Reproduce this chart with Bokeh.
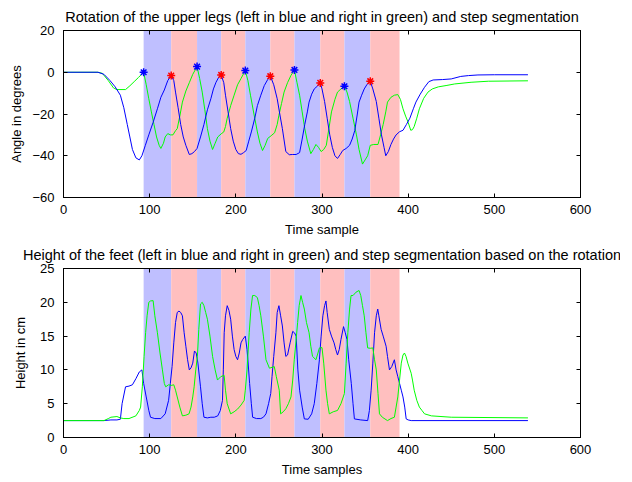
from bokeh.plotting import figure
from bokeh.models import LinearAxis, FixedTicker, Range1d
from bokeh.layouts import column
from bokeh.embed import file_html
from bokeh.resources import INLINE

# ---------------- data ----------------
x_ticks = [0, 100, 200, 300, 400, 500, 600]
rot_ticks = [-60, -40, -20, 0, 20]
hgt_ticks = [0, 5, 10, 15, 20, 25]

# step segmentation boundaries (time samples)
step_edges = [93, 125, 155, 183, 211, 240, 268, 298, 326, 356, 390]

# rotation of upper legs: left (blue)
rot_left_x = [0, 40, 47, 54, 60, 66, 70, 74, 77, 80, 84, 88, 91, 95, 99, 104, 109, 113, 117, 121,
              125, 128, 130, 133, 136, 139, 142, 146, 149, 152, 155, 159, 163, 167, 171, 174, 177, 180,
              183, 186, 188, 191, 194, 197, 200, 203, 206, 209, 212, 215, 218, 222, 225, 229, 233, 237,
              240, 244, 248, 251, 254, 258, 262, 266, 270, 274, 277, 280, 283, 285, 288, 291, 295,
              298, 300, 303, 306, 309, 312, 315, 318, 321, 324, 328, 332, 335, 338, 341, 343, 346, 349, 352,
              356, 359, 363, 366, 369, 372, 374, 377, 380, 383, 386, 390, 394, 398, 402, 406, 409, 414, 419,
              424, 429, 440, 450, 461, 470, 481, 500, 539]
rot_left_y = [0, 0, -1, -4, -7, -11, -17, -25, -31, -37, -41, -42, -40, -35, -30, -24, -17.5, -12, -8.5, -4,
              -1.6, -4, -9.5, -17, -25, -31, -35, -39.4, -39, -38, -36.5, -31, -25, -18, -12.7, -8, -4.8, -2.5,
              -1.3, -5, -11, -19, -27, -33, -37, -39, -39.3, -38.5, -37.5, -33, -28.6, -22, -16, -11, -6.4, -3.5,
              -1.8, -6, -12.7, -20, -27, -38, -39.5, -39.4, -39.4, -38.5, -32, -25, -19, -14.3, -10.5, -8, -6.5,
              -5.1, -8, -14, -22, -30, -36, -40, -41.3, -39.5, -37.5, -36.5, -35, -32, -28, -20, -14.3, -11, -8, -6,
              -4.3, -8, -14, -22, -30, -36, -40, -38, -34.6, -32, -30, -28.5, -27.8, -25, -22, -17.5, -14.3, -10.5, -7.2,
              -4.5, -3.7, -3.5, -3.2, -2, -1.6, -1.3, -1.2, -1.2]

# rotation of upper legs: right (green)
rot_right_x = [0, 40, 45, 52, 58, 62, 72, 77, 82, 87, 93, 96, 99, 102, 105, 108, 111, 113, 116, 118, 121,
               124, 127, 130, 132, 135, 138, 142, 146, 150, 155, 158, 161, 164, 167, 170, 173, 176, 179, 183,
               186, 188, 190, 194, 198, 202, 206, 211, 214, 217, 221, 225, 228, 231, 234, 237, 241, 245, 248,
               250, 253, 256, 260, 264, 268, 271, 274, 277, 280, 283, 287, 290, 293, 296, 299, 302, 305, 308,
               311, 315, 318, 322, 326, 329, 332, 336, 340, 343, 347, 350, 353, 356, 360, 365, 368, 371, 374,
               376, 380, 384, 388, 391, 394, 397, 400, 403, 405, 407, 410, 413, 418, 423, 428, 435, 445, 454,
               473, 493, 539]
rot_right_y = [0, 0, -0.5, -4, -7.5, -8.3, -8.3, -6.5, -4.5, -2.5, 0, -6, -12.7, -19, -25, -31, -35, -36.5, -34, -31, -29.4,
               -30, -30, -28, -27, -21, -14.3, -9, -5, -1, 2.7, -3, -9.5, -18, -27, -33, -37, -34, -31, -29.5,
               -28.6, -26, -22, -16, -11, -6, -3, 0.8, -4, -11, -20, -28.6, -34, -37.5, -35, -31.7, -30.4, -29, -25,
               -20.6, -15, -9.5, -5, -1.5, 1.1, -5, -11, -19, -27, -33, -39, -37, -34.6, -36, -38, -37, -35, -27,
               -19, -13, -9.5, -8, -6.7, -9.5, -14, -22, -30, -37, -44, -42, -40, -35, -34.6, -34.6, -30, -25, -19,
               -14.3, -12, -11, -10.7, -13, -17.5, -21, -24, -27.8, -27.5, -26, -22, -17.5, -12.5, -9.5, -8, -7, -6.3, -5.6,
               -4.8, -4.3, -4.1]

# markers at segmentation points
left_mark_x = [93, 155, 211, 268, 326]
left_mark_y = [0, 2.7, 0.8, 1.1, -6.7]
right_mark_x = [125, 183, 240, 298, 356]
right_mark_y = [-1.6, -1.3, -1.9, -5.1, -4.3]

# height of feet: left (blue)
hgt_left_x = [0, 47, 55, 62, 66, 68, 72, 76, 80, 84, 88, 91, 93, 96, 99, 101, 106, 113, 118, 122, 124, 126,
              128, 130, 132, 134, 136, 138, 140, 142, 144, 146, 148, 150, 152, 154, 156, 159, 161, 163, 167,
              171, 175, 179, 182, 184.5, 185.5, 186.5, 188, 190, 192, 194, 196, 198, 200, 202, 204, 206, 208,
              211, 213, 214, 216, 218, 219.5, 224, 229, 232, 235, 238, 240.5, 242, 244, 246.5, 248, 250, 252,
              254, 256, 258, 260, 263, 266, 268, 270, 272, 274, 277, 279.5, 284, 288, 291, 294, 297, 299, 301,
              303, 304.6, 306, 308.5, 311, 314, 316, 318, 320, 322, 325, 327, 329, 331, 334, 336, 337.6, 345,
              353, 355, 357, 359, 361, 363, 364.7, 366, 368.6, 371, 374.4, 376, 378.3, 381, 384, 386, 388, 390,
              392, 394, 396, 397.7, 400, 403.5, 539]
hgt_left_y = [2.5, 2.5, 2.6, 2.6, 2.7, 5, 7.5, 7.6, 7.8, 8.7, 9.7, 10, 8, 6, 4, 3, 2.8, 2.8, 3.5, 5.5, 8, 10.5,
              14, 17, 18.5, 18.7, 18.5, 18, 15.5, 13.5, 11.5, 10, 10.3, 11, 12.8, 12.5, 11, 7.5, 5, 3, 2.9,
              3, 3, 3.2, 4, 5.5, 10, 15.5, 18, 19.5, 18.8, 17.5, 15, 13, 12, 11.5, 12.5, 14, 14.5,
              15, 13, 11.5, 8, 5, 3, 2.8, 2.8, 3, 3.5, 5, 6.5, 9, 12, 15.5, 18.5, 19.5, 18,
              16.5, 14, 12, 12.2, 14, 15.7, 15.5, 15, 10, 7, 4.5, 2.75, 2.7, 3.5, 5, 8, 11.5, 15, 18,
              19.5, 20.2, 18.5, 16, 15, 14, 13, 12.2, 13, 14.5, 16.4, 15.5, 14.5, 11.5, 8, 5, 2.75, 2.6,
              2.5, 4, 7, 11, 15.5, 18, 19, 18, 16, 15, 13.5, 12, 10, 10.5, 11.5, 10, 9, 8,
              7, 6, 4.5, 2.75, 2.6, 2.5, 2.5]

# height of feet: right (green)
hgt_right_x = [0, 47, 52, 55, 62, 66, 70, 76, 84, 88, 89.5, 91.5, 93.5, 95.3, 97, 99, 101, 104, 106, 109, 112,
               114.8, 117, 118.6, 122, 125, 128, 130, 132, 135, 138, 142, 145.7, 148, 150, 151.6, 153.5, 155.4,
               157, 159, 161, 163, 165, 167, 170, 173, 176, 178.7, 182.5, 186.4, 188, 190, 194, 198, 202, 206,
               209.7, 211, 213, 215.5, 217.5, 219.4, 222, 225, 227, 229, 232, 235, 239, 244.6, 247, 250.4, 252,
               255, 258, 261, 264, 266, 267.8, 270, 271.7, 273.5, 275.6, 277.5, 279.5, 282, 285, 287, 289, 293,
               297, 300, 302, 304.6, 306.5, 308.5, 313, 318, 322, 326, 328, 330, 332, 333.7, 336, 339.5, 343,
               345, 347, 349, 351, 353, 356, 359, 361, 363, 365, 366.7, 370, 376, 380, 384, 386, 388, 390, 392,
               394, 395.7, 397.5, 399.6, 403.5, 405, 407, 410, 413, 416, 419, 427, 450, 539]
hgt_right_y = [2.5, 2.5, 2.8, 3, 3.1, 2.9, 2.8, 2.8, 3.2, 4, 4.5, 7.5, 12, 15.5, 18, 20, 20.2, 20.25, 18, 15.5, 12.5,
               10, 8, 7.5, 7.8, 7.7, 7.8, 7, 6, 4.5, 3.2, 3.3, 3.5, 4.5, 6, 7.5, 10, 12,
               16, 19.75, 20, 19.5, 18.5, 17.5, 15, 12, 10, 8.5, 9, 9.2, 7, 5, 3.5, 3.8, 4.2, 4.8,
               5.5, 7, 10, 15.5, 19, 21, 21, 20.7, 19.5, 18, 15, 11.5, 10.25, 10.5, 9, 7, 3.5,
               3.8, 4.25, 5, 6, 8.5, 11.5, 14.5, 17, 19.5, 21, 20, 19, 17, 15.5, 13.5, 12, 11.5,
               13.25, 13.3, 11, 7, 5, 3.5, 3.8, 4, 5, 6.5, 11, 15.5, 19, 21, 21, 21.5, 21.75,
               21, 19.5, 18, 15.5, 13.25, 13.2, 13.25, 11.5, 10, 6.5, 3.5, 3, 2.5, 2.8, 3, 4.5, 6, 8.5, 11,
               12.2, 12.5, 12, 11, 9.5, 8.5, 7, 5.5, 4.5, 4, 3.5, 3.2, 3, 2.9]

rot_range = (-60, 20)
hgt_range = (0, 25)
x_range = (0, 600)

# ---------------- style ----------------
FONT = "Liberation Sans"
BLUE_BAND = "#BFBFFF"
RED_BAND = "#FFBFBF"
LINE_BLUE = "#0000FF"
LINE_GREEN = "#00FF00"


def make_fig(title, xlabel, ylabel, yr, yticks, height, top_b, bottom_b, ylab_standoff, t_standoff):
    p = figure(width=620, height=height, output_backend="svg", toolbar_location=None,
               x_range=Range1d(*x_range), y_range=Range1d(*yr),
               min_border_left=63, min_border_right=40, min_border_top=top_b,
               min_border_bottom=bottom_b, title=title)
    p.title.text_font = FONT
    p.title.text_font_size = "14.5px"
    p.title.text_font_style = "normal"
    p.title.text_color = "black"
    p.title.align = "center"
    p.title.standoff = t_standoff
    p.grid.visible = False
    p.outline_line_color = "black"
    p.outline_line_width = 1
    p.background_fill_color = "white"
    p.border_fill_color = "white"
    p.xaxis.axis_label = xlabel
    p.yaxis.axis_label = ylabel
    p.xaxis.ticker = FixedTicker(ticks=x_ticks)
    p.yaxis.ticker = FixedTicker(ticks=yticks)
    for ax in (p.xaxis, p.yaxis):
        ax.major_tick_in = 4
        ax.major_tick_out = 0
        ax.minor_tick_line_color = None
        ax.axis_line_color = "black"
        ax.major_label_text_font = FONT
        ax.major_label_text_font_size = "13px"
        ax.major_label_text_color = "black"
        ax.axis_label_text_font = FONT
        ax.axis_label_text_font_size = "13px"
        ax.axis_label_text_font_style = "normal"
        ax.axis_label_text_color = "black"
    p.xaxis.major_label_standoff = 7
    p.xaxis.axis_label_standoff = 5
    p.yaxis.major_label_standoff = 9
    p.yaxis.axis_label_standoff = ylab_standoff
    # top and right axes: ticks only
    top = LinearAxis(ticker=FixedTicker(ticks=x_ticks))
    right = LinearAxis(ticker=FixedTicker(ticks=yticks))
    for ax in (top, right):
        ax.major_tick_in = 4
        ax.major_tick_out = 0
        ax.minor_tick_line_color = None
        ax.major_label_text_color = None
        ax.major_label_text_font_size = "1px"
        ax.major_label_standoff = 0
        ax.axis_line_color = "black"
    p.add_layout(top, "above")
    p.add_layout(right, "right")
    # segmentation bands
    lefts = step_edges[:-1]
    rights = step_edges[1:]
    colors = [BLUE_BAND if i % 2 == 0 else RED_BAND for i in range(len(lefts))]
    p.quad(left=lefts, right=rights, bottom=[yr[0]] * len(lefts), top=[yr[1]] * len(lefts),
           fill_color=colors, line_color=None)
    return p


p1 = make_fig("Rotation of the upper legs (left in blue and right in green) and step segmentation",
              "Time sample", "Angle in degrees", rot_range, rot_ticks, 239, 30, 42, 5, 12)
p1.line(rot_right_x, rot_right_y, line_color=LINE_GREEN, line_width=1)
p1.line(rot_left_x, rot_left_y, line_color=LINE_BLUE, line_width=1)
p1.scatter(left_mark_x, left_mark_y, marker="asterisk", size=8, line_color=LINE_BLUE, line_width=1.5)
p1.scatter(right_mark_x, right_mark_y, marker="asterisk", size=8, line_color="#FF0000", line_width=1.5)

p2 = make_fig("Height of the feet (left in blue and right in green) and step segmentation based on the rotation",
              "Time samples", "Height in cm", hgt_range, hgt_ticks, 243, 29, 45, 9, 11)
p2.line(hgt_left_x, hgt_left_y, line_color=LINE_BLUE, line_width=1)
p2.line(hgt_right_x, hgt_right_y, line_color=LINE_GREEN, line_width=1)

layout = column(p1, p2, spacing=0)
open("out.html", "w").write(file_html(layout, INLINE))
